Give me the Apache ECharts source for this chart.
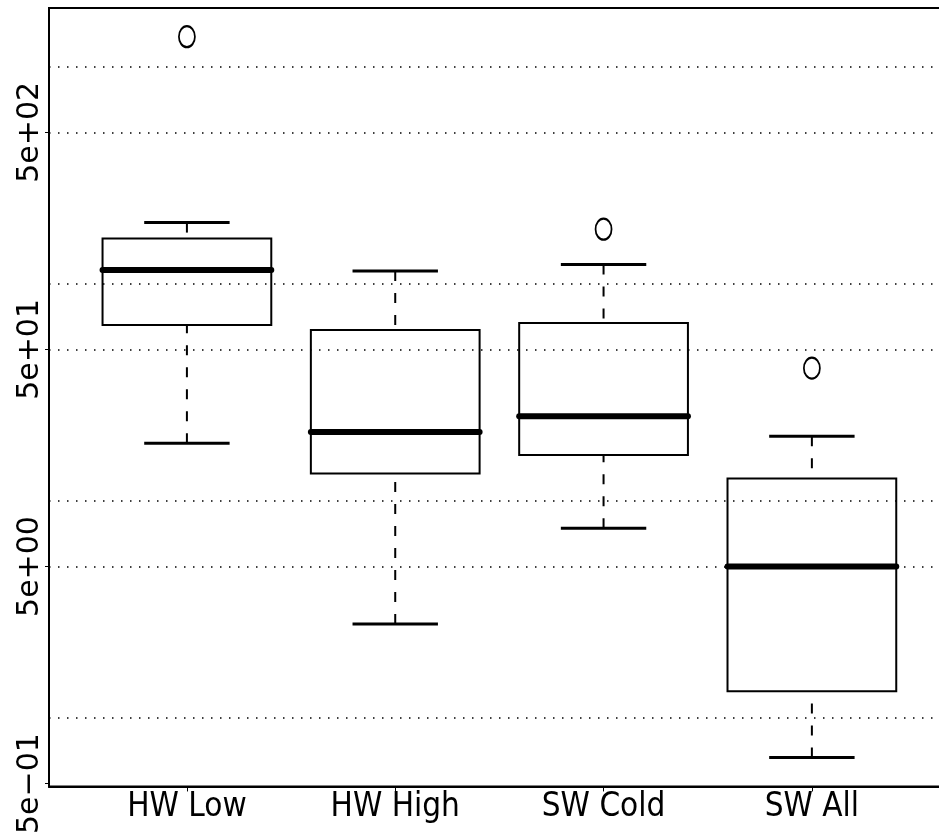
<!DOCTYPE html>
<html>
<head>
<meta charset="utf-8">
<script src="https://cdn.jsdelivr.net/npm/echarts@6/dist/echarts.min.js"></script>
<style>
  html, body { margin: 0; padding: 0; background: #fff; overflow: hidden; }
  #chart { width: 960px; height: 837px; }
</style>
</head>
<body>
<div id="chart"></div>
<script>
// groups on the x axis
const categories = ['HW Low', 'HW High', 'SW Cold', 'SW All']

// box stats per group: [lower whisker, Q1, median, Q3, upper whisker]
const lowWhisker = [18.5, 2.72, 7.5, 0.66]
const q1 = [64.8, 13.4, 16.3, 1.33]
const medians = [116, 20.8, 24.6, 5]
const q3 = [162, 61.4, 66.2, 12.7]
const highWhisker = [192, 115, 123, 19.9]

// outliers: [group number, value]
const outliers = [[1, 1380], [3, 179], [4, 41]]

// y axis (log scale)
const yTickValues = [0.5, 5, 50, 500]
const yTickLabels = ['5e\u221201', '5e+00', '5e+01', '5e+02']
const gridValues = [1, 5, 10, 50, 100, 500, 1000]

const boxData = categories.map((c, i) => [i + 1, lowWhisker[i], q1[i], medians[i], q3[i], highWhisker[i]])

function renderBox (params, api) {
    const x = api.value(0)
    const left = api.coord([x - 0.5, api.value(3)])[0]
    const right = api.coord([x + 0.5, api.value(3)])[0]
    const band = right - left
    const cx = api.coord([x, api.value(3)])[0]
    const boxHalf = band * 0.405
    const capHalf = band * 0.205
    const yLow = api.coord([x, api.value(1)])[1]
    const yQ1 = api.coord([x, api.value(2)])[1]
    const yMed = api.coord([x, api.value(3)])[1]
    const yQ3 = api.coord([x, api.value(4)])[1]
    const yHigh = api.coord([x, api.value(5)])[1]

    const dash = { stroke: '#000', lineWidth: 2, lineDash: [10, 12], fill: null }
    return {
        type: 'group',
        children: [
            { type: 'line', shape: { x1: cx, y1: yLow, x2: cx, y2: yQ1 }, style: dash },
            { type: 'line', shape: { x1: cx, y1: yHigh, x2: cx, y2: yQ3 }, style: dash },
            { type: 'line', shape: { x1: cx - capHalf, y1: yLow, x2: cx + capHalf, y2: yLow }, style: { stroke: '#000', lineWidth: 3 } },
            { type: 'line', shape: { x1: cx - capHalf, y1: yHigh, x2: cx + capHalf, y2: yHigh }, style: { stroke: '#000', lineWidth: 3 } },
            { type: 'rect', shape: { x: cx - boxHalf, y: yQ3, width: boxHalf * 2, height: yQ1 - yQ3 }, style: { stroke: '#000', lineWidth: 2, fill: null } },
            { type: 'line', shape: { x1: cx - boxHalf, y1: yMed, x2: cx + boxHalf, y2: yMed }, style: { stroke: '#000', lineWidth: 6, lineCap: 'round' } }
        ]
    }
}

function yLabel (v) {
    for (let i = 0; i < yTickValues.length; i++) {
        if (Math.abs(Math.log10(v) - Math.log10(yTickValues[i])) < 1e-6) return yTickLabels[i]
    }
    return ''
}

const chart = echarts.init(document.getElementById('chart'))

chart.setOption({
    animation: false,
    backgroundColor: '#fff',
    grid: {
        left: 49, top: 8, bottom: 48, right: 15,
        show: true, borderColor: '#000', borderWidth: 2, backgroundColor: 'transparent'
    },
    xAxis: {
        type: 'value',
        min: 0.338,
        max: 4.639,
        splitLine: { show: false },
        axisLine: { show: true, lineStyle: { color: '#000', width: 2 } },
        axisTick: { show: true, customValues: [1, 2, 3, 4], length: 5, lineStyle: { color: '#000', width: 1 } },
        axisLabel: {
            customValues: [1, 2, 3, 4],
            formatter: v => categories[Math.round(v) - 1],
            color: '#000',
            fontSize: 33,
            fontFamily: "'DejaVu Sans Condensed', 'Liberation Sans', sans-serif",
            margin: 4
        }
    },
    yAxis: {
        type: 'log',
        logBase: 10,
        min: 0.485,
        max: 1870,
        splitLine: { show: false },
        axisLine: { show: true, lineStyle: { color: '#000', width: 2 } },
        axisTick: { show: true, customValues: yTickValues, length: 4, lineStyle: { color: '#000', width: 1 } },
        axisLabel: {
            customValues: yTickValues,
            formatter: yLabel,
            rotate: 90,
            color: '#000',
            fontSize: 30,
            fontFamily: "'DejaVu Sans', sans-serif",
            margin: 4
        }
    },
    series: [
        {
            type: 'custom',
            renderItem: renderBox,
            data: boxData,
            encode: { x: 0, y: [1, 2, 3, 4, 5] },
            z: 3
        },
        {
            type: 'scatter',
            data: outliers,
            symbol: 'path://M0,10.5 A8,10.5 0 1,1 16,10.5 A8,10.5 0 1,1 0,10.5 Z',
            symbolSize: [16, 21],
            itemStyle: { color: 'transparent', borderColor: '#000', borderWidth: 2, opacity: 1 },
            z: 3,
            markLine: {
                silent: true,
                symbol: ['none', 'none'],
                label: { show: false },
                lineStyle: { type: [1.5, 7.5], color: '#000', width: 1.5 },
                data: gridValues.map(v => ({ yAxis: v }))
            }
        }
    ]
})
</script>
</body>
</html>
